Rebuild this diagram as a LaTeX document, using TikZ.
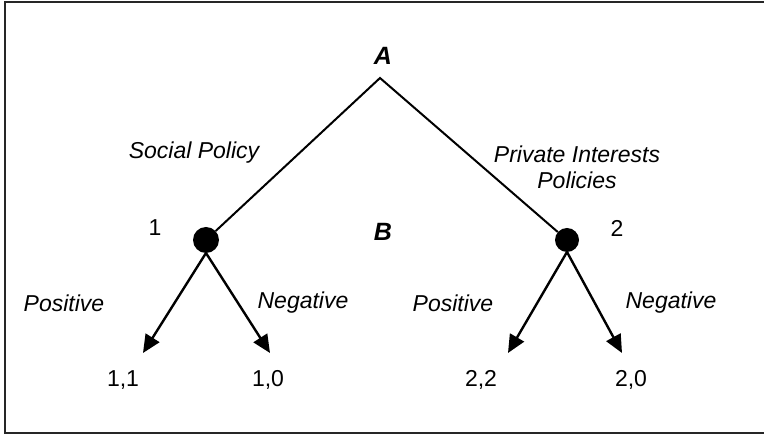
\documentclass[tikz,border=0pt]{standalone}
\usepackage{fontspec}
\setmainfont{Liberation Sans}
\usetikzlibrary{arrows.meta}
\begin{document}
\begin{tikzpicture}[x=1pt,y=-1pt,
  lbl/.style={font=\fontsize{23}{26}\selectfont\itshape, inner sep=0pt, align=center},
  num/.style={font=\fontsize{23}{26}\selectfont, inner sep=0pt},
  big/.style={font=\fontsize{25}{28}\selectfont\bfseries\itshape, inner sep=0pt},
  dot/.style={circle, fill=black, minimum size=26pt, inner sep=0pt},
  edge/.style={line width=2pt},
  arr/.style={line width=2.4pt, -{Triangle[length=18pt,width=16pt]}}]
\useasboundingbox (0,0) rectangle (764,435);
\begin{scope}
\clip (0,0) rectangle (764,435);
\draw[line width=2.2pt, black!85] (5,2) rectangle (780,433);
\end{scope}
\coordinate (top) at (380,78);
\node[big] (A) at (383,56) {A};
\node[big] (B) at (383,232) {B};
\node[dot] (n1) at (206,240) {};
\node[dot, minimum size=24pt] (n2) at (567,240) {};
\node[num] (l1) at (155,228) {1};
\node[num] (l2) at (617,228) {2};
\node[lbl] (sp) at (194,153) {Social Policy};
\node[lbl] (pip) at (577,167) {Private Interests\\Policies};
\coordinate (e11) at (143,353);
\coordinate (e10) at (270,353);
\coordinate (e22) at (508,353);
\coordinate (e20) at (622,353);
\draw[edge] (n1) -- (top) -- (n2);
\draw[arr] (n1.center) ++(0,13) -- (e11);
\draw[arr] (n1.center) ++(0,13) -- (e10);
\draw[arr] (n2.center) ++(0,12) -- (e22);
\draw[arr] (n2.center) ++(0,12) -- (e20);
\node[lbl] (p1) at (64,303) {Positive};
\node[lbl] (g1) at (303,303) {Negative};
\node[lbl] (p2) at (453,303) {Positive};
\node[lbl] (g2) at (671,303) {Negative};
\node[num] (r11) at (123,380) {1,1};
\node[num] (r10) at (268,380) {1,0};
\node[num] (r22) at (481,380) {2,2};
\node[num] (r20) at (631,380) {2,0};
\end{tikzpicture}
\end{document}
